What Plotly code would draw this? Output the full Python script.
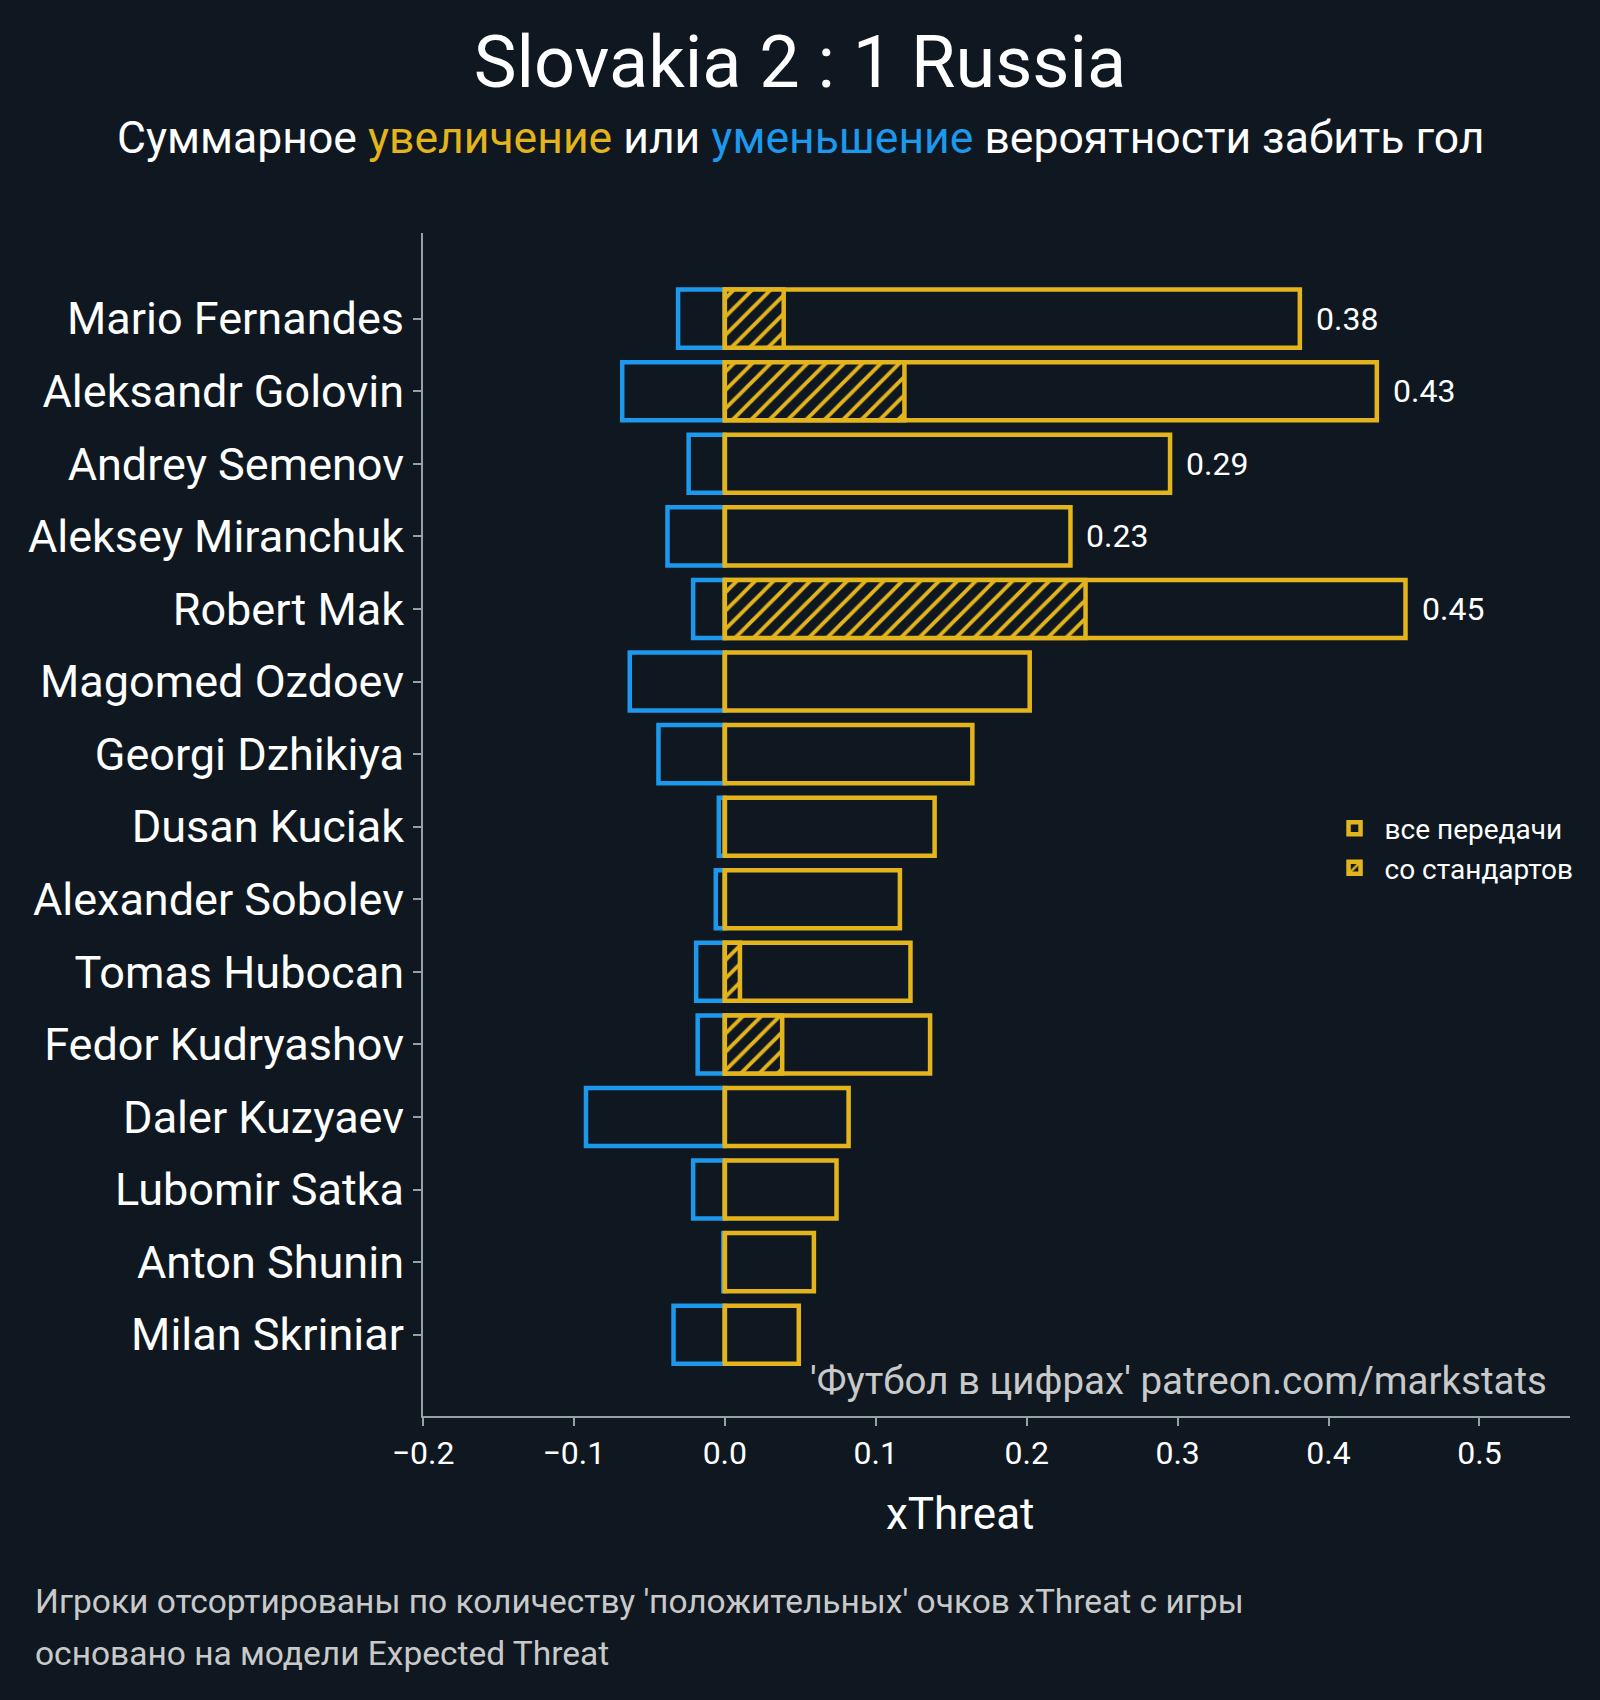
import plotly.graph_objects as go

players = ['Mario Fernandes', 'Aleksandr Golovin', 'Andrey Semenov', 'Aleksey Miranchuk',
           'Robert Mak', 'Magomed Ozdoev', 'Georgi Dzhikiya', 'Dusan Kuciak',
           'Alexander Sobolev', 'Tomas Hubocan', 'Fedor Kudryashov', 'Daler Kuzyaev',
           'Lubomir Satka', 'Anton Shunin', 'Milan Skriniar']
positive = [0.381, 0.432, 0.295, 0.229, 0.451, 0.202, 0.164, 0.139,
            0.116, 0.123, 0.136, 0.082, 0.074, 0.059, 0.049]
set_pieces = [0.039, 0.119, 0.0, 0.0, 0.239, 0.0, 0.0, 0.0,
              0.0, 0.010, 0.038, 0.0, 0.0, 0.0, 0.0]
negative = [-0.031, -0.068, -0.024, -0.038, -0.021, -0.063, -0.044, -0.004,
            -0.006, -0.019, -0.018, -0.092, -0.021, -0.001, -0.034]
labels = ['0.38', '0.43', '0.29', '0.23', '0.45', '', '', '', '', '', '', '', '', '', '']

bg = '#0f1821'
yellow = '#e3b41b'
blue = '#1c98ec'
axis_col = '#93a3a3'
grey_txt = '#c9c9c9'

fig = go.Figure()

# отрицательные (синие)
fig.add_trace(go.Bar(
    y=players, x=negative, orientation='h', width=0.8,
    marker=dict(color=bg, line=dict(color=blue, width=4.5)),
    showlegend=False, hoverinfo='x+y'
))

# все передачи
fig.add_trace(go.Bar(
    y=players, x=positive, orientation='h', width=0.8,
    name='все передачи',
    marker=dict(color=bg, line=dict(color=yellow, width=4.5)),
))

# со стандартов (штриховка)
fig.add_trace(go.Bar(
    y=players, x=set_pieces, orientation='h', width=0.8,
    name='со стандартов',
    marker=dict(color=bg, line=dict(color=yellow, width=4.5),
                pattern=dict(shape='/', fgcolor=yellow, fgopacity=1, bgcolor=bg,
                             size=13, solidity=0.3)),
))

# подписи значений
for p, v, lab in zip(players, positive, labels):
    if lab:
        fig.add_annotation(text=lab, x=v, y=p, xref='x', yref='y',
                           xanchor='left', yanchor='middle', xshift=14, showarrow=False,
                           font=dict(size=32, color='white', family='Roboto'))

fig.add_annotation(text="Суммарное <span style='color:%s'>увеличение</span> или "
                        "<span style='color:%s'>уменьшение</span> вероятности забить гол" % (yellow, blue),
                   xref='paper', yref='paper', x=0.329, xanchor='center',
                   y=1.080, yanchor='middle', showarrow=False,
                   font=dict(size=44.5, color='white', family='Roboto'))

fig.add_annotation(text="xThreat", xref='paper', yref='paper', x=0.468, xanchor='center',
                   y=-0.083, yanchor='middle', showarrow=False,
                   font=dict(size=44, color='white', family='Roboto'))

fig.add_annotation(text="'Футбол в цифрах' patreon.com/markstats",
                   xref='x', yref='y', x=0.546, y=14.63, xanchor='right', yanchor='middle',
                   showarrow=False, font=dict(size=38.5, color=grey_txt, family='Roboto'))

fig.add_annotation(text="Игроки отсортированы по количеству 'положительных' очков xThreat с игры",
                   xref='paper', yref='paper', x=-0.34, xanchor='left',
                   y=-0.157, yanchor='middle', showarrow=False,
                   font=dict(size=33.5, color=grey_txt, family='Roboto'))
fig.add_annotation(text="основано на модели Expected Threat",
                   xref='paper', yref='paper', x=-0.34, xanchor='left',
                   y=-0.201, yanchor='middle', showarrow=False,
                   font=dict(size=33.5, color=grey_txt, family='Roboto'))

fig.update_layout(
    width=1600, height=1700,
    paper_bgcolor=bg, plot_bgcolor=bg,
    barmode='overlay',
    font=dict(family='Roboto', color='white'),
    title=dict(text='Slovakia 2 : 1 Russia', x=0.5, xanchor='center',
               y=1 - 62 / 1700, yanchor='middle',
               font=dict(size=72, color='white', family='Roboto')),
    margin=dict(l=423, r=30, t=233, b=284),
    legend=dict(x=0.786, y=0.48, xanchor='left', yanchor='middle',
                bgcolor='rgba(0,0,0,0)', font=dict(size=28, color='white', family='Roboto'),
                itemwidth=50, tracegroupgap=10),
)

fig.update_xaxes(range=[-0.2, 0.56], dtick=0.1, tickformat='.1f',
                 showgrid=False, zeroline=False,
                 showline=True, linecolor=axis_col, linewidth=2,
                 ticks='outside', tickcolor=axis_col, ticklen=8, tickwidth=2,
                 tickfont=dict(size=32, color='white'))
fig.update_yaxes(categoryorder='array', categoryarray=players,
                 range=[15.12, -1.18],
                 showgrid=False, zeroline=False,
                 showline=True, linecolor=axis_col, linewidth=2,
                 ticks='outside', tickcolor=axis_col, ticklen=8, tickwidth=2,
                 tickfont=dict(size=45, color='white'))

fig.write_html("out.html", config={'displayModeBar': False},
               post_script="document.body.style.margin='0';document.body.style.background='%s';" % bg)
